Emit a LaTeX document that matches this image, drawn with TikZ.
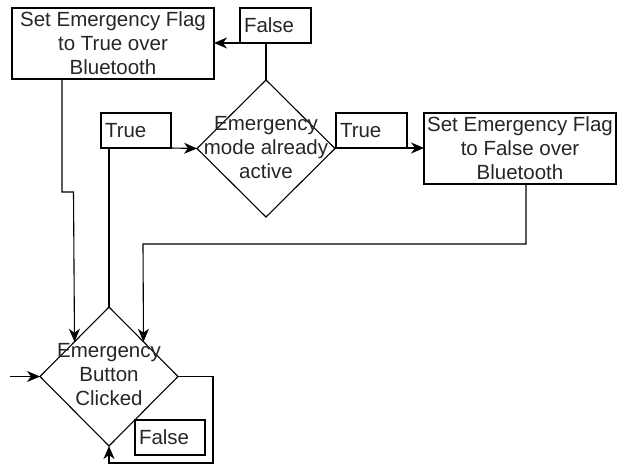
\documentclass[tikz,border=0pt]{standalone}
\usepackage{fontspec}
\setmainfont{Liberation Sans}
\usetikzlibrary{shapes.geometric,arrows.meta,calc}
\begin{document}
\begin{tikzpicture}[x=1pt,y=-1pt,
  every node/.style={font=\fontsize{20.5}{24}\selectfont, text=black!85},
  box/.style={draw=black, line width=1.1pt, inner sep=0pt, outer sep=0pt, align=center},
  lbl/.style={draw=black, line width=1.1pt, inner sep=0pt, outer sep=0pt, text width=#1, minimum height=35pt, align=left},
  dia/.style={draw=black, line width=1.1pt, diamond, inner sep=0pt, outer sep=0pt},
  txt/.style={inner sep=0pt, align=center},
  ln/.style={draw=black, line width=1.1pt},
  arr/.style={draw=black, line width=1.1pt, -{Stealth[length=13pt,width=11pt,inset=4pt]}}]
\useasboundingbox (0,0) rectangle (617,466);
% boxes
\node[box, minimum width=202pt, minimum height=71pt] (settrue) at (113,43.5) {Set Emergency Flag\\to True over\\Bluetooth};
\node[box, minimum width=192pt, minimum height=71pt] (setfalse) at (520,148.5) {Set Emergency Flag\\to False over\\Bluetooth};
% labels
\node[lbl=71pt] (f1) at (275.5,25.5) {\hspace{4pt}False};
\node[lbl=70pt] (t1) at (136,130.5) {\hspace{4pt}True};
\node[lbl=71pt] (t2) at (371.5,130.5) {\hspace{4pt}True};
\node[lbl=70pt] (f2) at (170,437.5) {\hspace{4pt}False};
% diamonds
\node[dia, minimum width=138pt, minimum height=137pt] (d1) at (266,148.5) {};
\node[txt] (d1t) at (266,148) {Emergency\\mode already\\active};
\node[dia, minimum width=138pt, minimum height=139pt] (d2) at (109,376.5) {};
\node[txt] (d2t) at (109,374.5) {Emergency\\Button\\Clicked};
% connectors
\coordinate (in) at (10,376.5);
\coordinate (lp1) at (213,463);
\draw[arr] (f1.south west) -- (f1.south west -| settrue.east);
\draw[ln] (d1.north |- f1.south) -- (d1.north);
\draw[arr] (t1.south east) -- (d1.west);
\draw[ln] (d2.north |- t1.south) -- (d2.north);
\draw[arr] (t2.south east) -- (t2.south east -| setfalse.west);
\draw[arr] (526,184) -- (526,244) -- (143,244) -- ($(d2.north)!0.5!(d2.east)$);
\draw[arr] (62,79) -- (62,192) -- (73.5,192) -- ($(d2.north)!0.5!(d2.west)$);
\draw[arr] (in) -- (d2.west);
\draw[arr] (d2.east) -| (lp1) -| (d2.south);
\end{tikzpicture}
\end{document}
